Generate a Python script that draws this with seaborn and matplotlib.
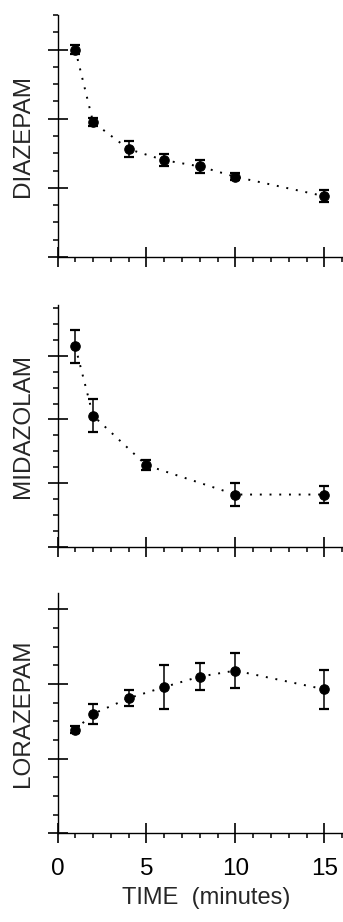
import matplotlib
matplotlib.use("Agg")
import matplotlib.pyplot as plt
from matplotlib.ticker import MultipleLocator, FixedLocator
import seaborn as sns
import pandas as pd

# ---- data ----
time_diazepam = [1, 2, 4, 6, 8, 10, 15]
diazepam = [3.00, 1.95, 1.56, 1.40, 1.31, 1.16, 0.88]
diazepam_err = [0.07, 0.06, 0.12, 0.085, 0.095, 0.05, 0.09]

time_midazolam = [1, 2, 5, 10, 15]
midazolam = [3.15, 2.06, 1.28, 0.82, 0.82]
midazolam_err = [0.26, 0.26, 0.08, 0.18, 0.14]

time_lorazepam = [1, 2, 4, 6, 8, 10, 15]
lorazepam = [1.39, 1.60, 1.81, 1.96, 2.10, 2.18, 1.93]
lorazepam_err = [0.05, 0.13, 0.11, 0.29, 0.18, 0.23, 0.26]

drug_names = ["DIAZEPAM", "MIDAZOLAM", "LORAZEPAM"]
x_ticks = [0, 5, 10, 15]
x_tick_labels = ["0", "5", "10", "15"]
x_label = "TIME  (minutes)"

sns.set_style("ticks")
plt.rcParams["font.family"] = ["Liberation Sans", "DejaVu Sans"]

W, H = 343, 922
fig = plt.figure(figsize=(W / 100, H / 100), dpi=100)

left_px, right_px = 57.5, 343
panels = [
    (time_diazepam, diazepam, diazepam_err, 15, 257, 3.5),
    (time_midazolam, midazolam, midazolam_err, 305, 546.7, 3.8),
    (time_lorazepam, lorazepam, lorazepam_err, 593, 833.3, 3.22),
]

for i, ((tx, vals, errs, top_px, bot_px, ytop), name) in enumerate(zip(panels, drug_names)):
    ax = fig.add_axes([left_px / W, 1 - bot_px / H,
                       (right_px - left_px) / W, (bot_px - top_px) / H])
    df = pd.DataFrame({"time": tx, "value": vals})
    sns.lineplot(data=df, x="time", y="value", ax=ax, color="black",
                 linestyle=(0, (1, 4)), linewidth=1.4,
                 marker="o", markersize=6.8, markeredgecolor="black",
                 markerfacecolor="black", markeredgewidth=0.8)
    ax.errorbar(tx, vals, yerr=errs, fmt="none", ecolor="black",
                elinewidth=1.1, capsize=3.8, capthick=1.6)

    ax.set_xlim(0, 16.05)
    ax.set_ylim(0, ytop)
    ax.xaxis.set_major_locator(FixedLocator(x_ticks))
    ax.xaxis.set_minor_locator(MultipleLocator(1))
    ax.yaxis.set_major_locator(MultipleLocator(1))
    ax.yaxis.set_minor_locator(MultipleLocator(0.25))

    for s in ["top", "right"]:
        ax.spines[s].set_visible(False)
    for s in ["left", "bottom"]:
        ax.spines[s].set_linewidth(1.0)
        ax.spines[s].set_color("black")

    ax.tick_params(which="major", direction="inout", length=14.4, width=1.2,
                   color="black", pad=10.9, labelsize=17.5, labelcolor="black")
    ax.tick_params(which="minor", direction="out", length=3.6, width=1.1,
                   color="black")
    ax.tick_params(axis="y", labelleft=False)

    if i < 2:
        ax.tick_params(axis="x", labelbottom=False)
        ax.set_xlabel("")
    else:
        ax.set_xticklabels(x_tick_labels)
        ax.set_xlabel(x_label, fontsize=17, va="baseline")
        ax.xaxis.set_label_coords((206 - left_px) / (right_px - left_px),
                                  -(904 - bot_px) / (bot_px - top_px))

    ax.set_ylabel(name, fontsize=17.5, va="center")
    ax.yaxis.set_label_coords((23.5 - left_px) / (right_px - left_px), 0.5)
    ax.set_facecolor("white")

fig.savefig("out.png", dpi=100, facecolor="white")
